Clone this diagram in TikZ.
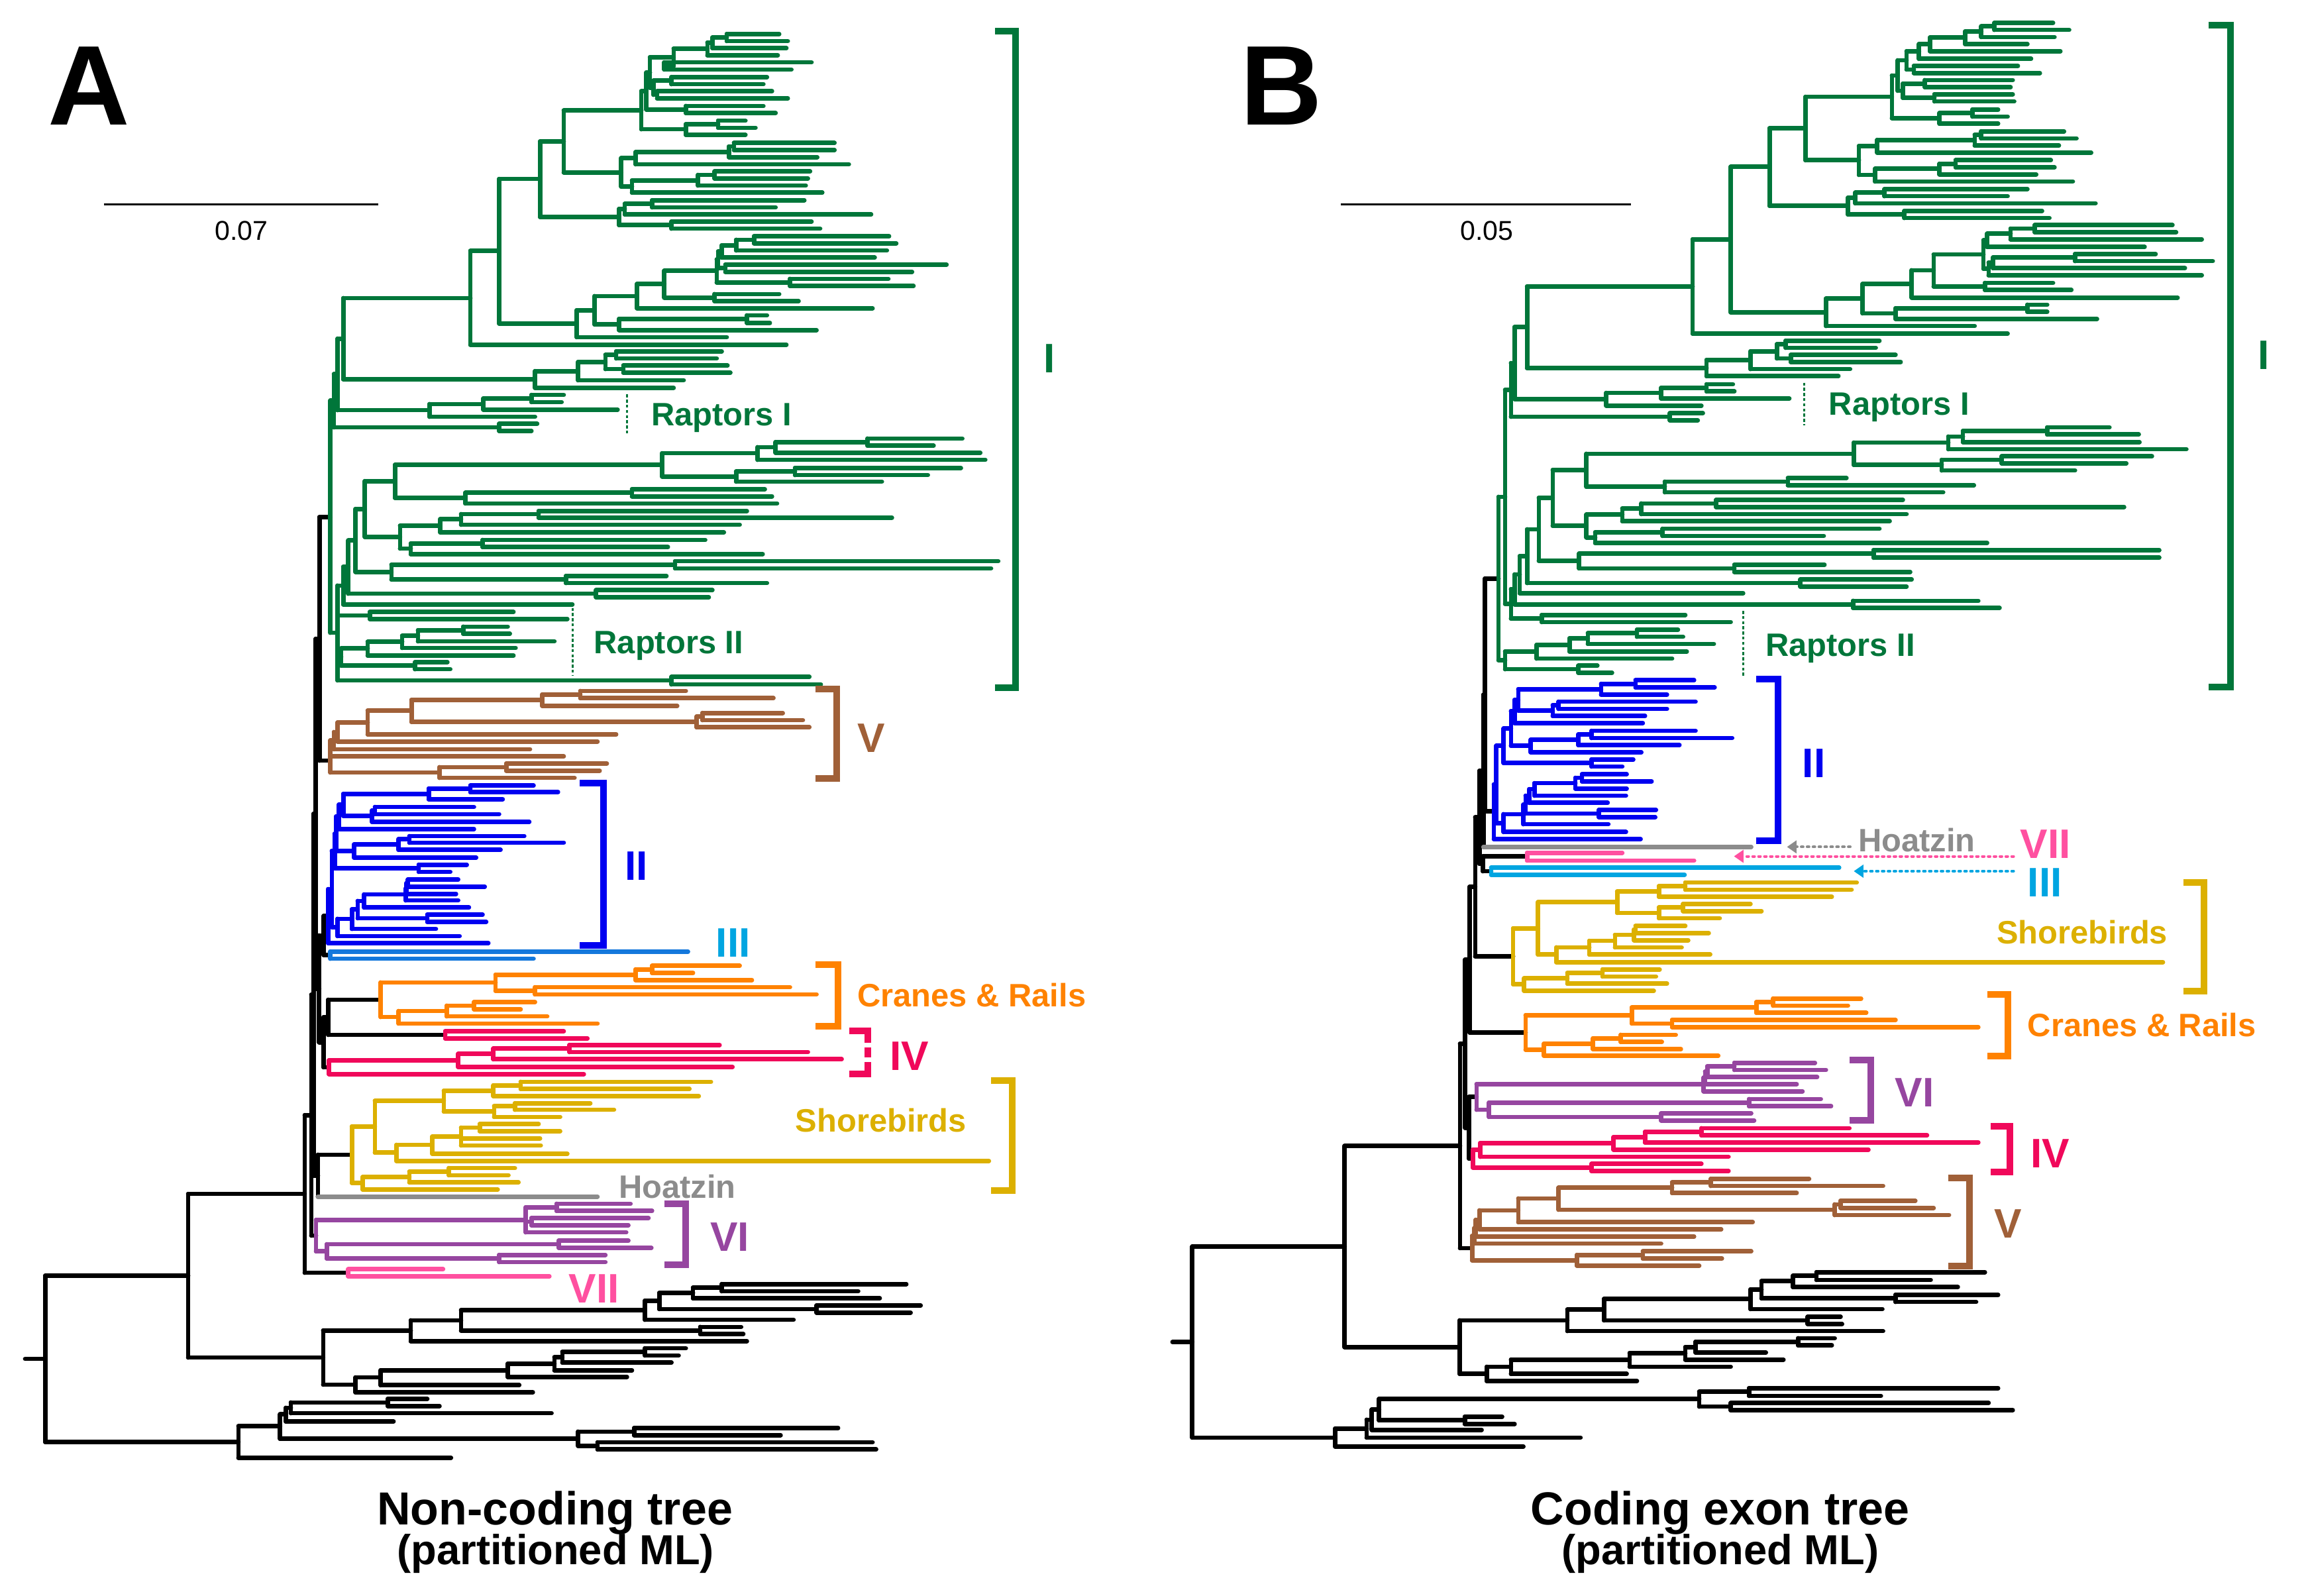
\documentclass[tikz,border=0pt]{standalone}
\usepackage{fontspec}
\setmainfont{Liberation Sans}
\usetikzlibrary{arrows.meta}
\definecolor{cI}{RGB}{0,118,58}
\definecolor{cV}{RGB}{160,96,56}
\definecolor{cII}{RGB}{0,0,240}
\definecolor{cIIIa}{RGB}{20,120,220}
\definecolor{cIII}{RGB}{0,165,225}
\definecolor{cCR}{RGB}{255,130,0}
\definecolor{cIV}{RGB}{240,8,90}
\definecolor{cSh}{RGB}{220,176,0}
\definecolor{cHo}{RGB}{140,140,140}
\definecolor{cVI}{RGB}{150,70,160}
\definecolor{cVII}{RGB}{255,80,160}
\newcommand\tnode[2]{%
  \foreach \yy/\xx [count=\ci] in {#2}{\ifnum\ci=1 \xdef\tyA{\yy}\fi\xdef\tyB{\yy}}%
  \draw (#1,\tyA) -- (#1,\tyB);%
  \draw foreach \yy/\xx in {#2}{(#1,\yy) -- (\xx,\yy)};%
}
\newcommand\LblF{\fontsize{22}{24}\selectfont\bfseries}
\newcommand\NumF{\fontsize{28}{30}\selectfont\bfseries}
\newcommand\TtlF{\fontsize{31.5}{34}\selectfont\bfseries}
\newcommand\SubF{\fontsize{28.5}{30}\selectfont\bfseries}
\newcommand\BigF{\fontsize{77}{80}\selectfont\bfseries}
\newcommand\ScF{\fontsize{18.5}{20}\selectfont}
\tikzset{
  brk/.style={line width=4.5pt,line cap=butt,line join=miter},
  rapt/.style={cI,line width=1.3pt,line cap=butt,dash pattern=on 2pt off 1.5pt},
  sbar/.style={line width=1.4pt,line cap=butt,black},
  dotarr/.style={line width=1.8pt,line cap=round,dash pattern=on 1.3pt off 2.7pt,-{Triangle[length=6.5pt,width=8.5pt]}},
  lbl/.style={inner sep=0pt,font=\LblF},
  num/.style={inner sep=0pt,font=\NumF}
}
\begin{document}
\begin{tikzpicture}[x=1pt,y=-1pt,line width=3pt,line cap=round,line join=round]
\fill[white] (0,0) rectangle (1568,1084);
\useasboundingbox (0,0) rectangle (1568,1084);

%%%%%%%%%%%%%%%%%%%%%%%%%%%% TREE A %%%%%%%%%%%%%%%%%%%%%%%%%%%%
% backbone (zoom2 coordinates)
\begin{scope}[shift={(0,450)},xscale=0.4879,yscale=0.4041,black]
\tnode{444.8}{-244.3/460,165/460}
\tnode{450.9}{426/457,492/460}
\tnode{457}{567/530,626/620}
\tnode{450.5}{596.5/457,680.5/458}
\tnode{444.4}{459/450.9,638.5/450.5}
\tnode{439.6}{-39.65/444.8,548.75/444.4}
\tnode{442.7}{827.5/490,898/442.7}
\tnode{436.6}{254.5/439.6,862.75/442.7}
\tnode{433.5}{558.6/436.6,963.5/440}
\tnode{424.3}{761/433.5,1026/485}
\tnode{262}{893.5/424.3,1168.5/450}
\tnode{63}{1031/262,1310.5/332}
\draw (35,1170.75) -- (63,1170.75);
\draw[cHo] (442.7,898) -- (832,898);
% outgroup
\tnode{1005}{1045/1262,1057/1195}
\tnode{965}{1051/1005,1069/1225}
\tnode{1137}{1081/1282,1093/1268}
\tnode{918}{1060/965,1087/1137}
\tnode{898}{1073/918,1105/1105}
\tnode{975}{1117/1032,1129/1035}
\tnode{642}{1089/898,1123/975}
\tnode{572}{1106/642,1141/1040}
\tnode{898}{1153/955,1165/945}
\tnode{783}{1159/898,1177/935}
\tnode{772}{1168/783,1190/880}
\tnode{707}{1179/772,1201/873}
\tnode{530}{1190/707,1215/723}
\tnode{495}{1202/530,1227/742}
\tnode{450}{1123/572,1214/495}
\tnode{540}{1238/595,1250/612}
\tnode{405}{1244/540,1262/768}
\tnode{398}{1253/405,1276/548}
\tnode{883}{1287/1167,1299/1087}
\tnode{832}{1311/1215,1323/1220}
\tnode{805}{1293/883,1317/832}
\tnode{390}{1264/398,1305/805}
\tnode{332}{1284/390,1337/628}
\end{scope}

% clade I (zoom1 coordinates)
\begin{scope}[xscale=0.4879,yscale=0.3444,cI]
\tnode{1012}{67/1085,81/1097}
\tnode{992}{74/1012,95/1095}
\tnode{985}{84/992,109/1083}
\tnode{925}{123/1130,137/1102}
\tnode{938}{96/985,130/925}
\tnode{935}{152/1068,166/1063}
\tnode{915}{180/1075,194/1097}
\tnode{910}{159/935,187/915}
\tnode{905}{113/938,173/910}
\tnode{955}{209/1063,223/1080}
\tnode{900}{143/905,216/955}
\tnode{1000}{238/1038,252/1052}
\tnode{955}{245/1000,266/1038}
\tnode{893}{180/900,255/955}
\tnode{1022}{282/1162,296/1162}
\tnode{1015}{289/1022,310/1138}
\tnode{885}{300/1015,324/1182}
\tnode{995}{338/1128,352/1125}
\tnode{972}{345/995,366/1122}
\tnode{880}{356/972,380/1145}
\tnode{865}{312/885,368/880}
\tnode{785}{218/893,340/865}
\tnode{908}{395/1120,409/1080}
\tnode{870}{402/908,423/1213}
\tnode{935}{437/1130,451/1142}
\tnode{862}{412/870,444/935}
\tnode{752}{279/785,428/862}
\tnode{1050}{466/1238,480/1248}
\tnode{1025}{473/1050,494/1235}
\tnode{1005}{484/1025,508/1218}
\tnode{1010}{522/1318,536/1270}
\tnode{1000}{496/1005,529/1010}
\tnode{1100}{550/1237,564/1272}
\tnode{998}{512/1000,557/1100}
\tnode{995}{580/1085,594/1112}
\tnode{925}{534/998,587/995}
\tnode{887}{560/925,608/1215}
\tnode{1040}{622/1068,637/1072}
\tnode{862}{629/1040,651/1137}
\tnode{828}{584/887,640/862}
\tnode{803}{612/828,665/1012}
\tnode{695}{353/752,638/803}
\tnode{655}{495/695,680/1095}
\tnode{858}{693/1005,707/998}
\tnode{868}{721/1013,735/1017}
\tnode{843}{700/858,728/868}
\tnode{805}{714/843,750/952}
\tnode{745}{732/805,765/938}
\tnode{478}{588/655,748/745}
\tnode{740}{779/785,793/782}
\tnode{673}{786/740,808/860}
\tnode{598}{797/673,822/745}
\tnode{470}{668/478,809/598}
\tnode{695}{836/748,850/740}
\tnode{465}{738/470,843/695}
\tnode{1208}{865/1340,879/1300}
\tnode{1080}{872/1208,893/1365}
\tnode{1055}{882/1080,907/1372}
\tnode{1107}{923/1338,937/1292}
\tnode{1025}{930/1107,950/1228}
\tnode{922}{894/1055,940/1025}
\tnode{880}{965/1065,979/1075}
\tnode{648}{972/880,993/1082}
\tnode{550}{917/922,982/648}
\tnode{750}{1008/1040,1021/1242}
\tnode{642}{1014/750,1035/1030}
\tnode{613}{1024/642,1050/1008}
\tnode{672}{1065/982,1079/930}
\tnode{572}{1072/672,1093/1062}
\tnode{557}{1037/613,1082/572}
\tnode{508}{949/550,1059/557}
\tnode{940}{1107/1390,1121/1380}
\tnode{788}{1136/928,1150/1068}
\tnode{545}{1114/940,1143/788}
\tnode{495}{1004/508,1128/545}
\tnode{830}{1164/992,1178/987}
\tnode{485}{1066/495,1171/830}
\tnode{478}{1118/485,1192/797}
\tnode{515}{1207/715,1221/790}
\tnode{645}{1236/707,1250/710}
\tnode{582}{1243/645,1265/772}
\tnode{560}{1254/582,1278/718}
\tnode{512}{1266/560,1293/715}
\tnode{578}{1306/623,1320/627}
\tnode{475}{1279/512,1313/578}
\tnode{935}{1335/1127,1350/1143}
\tnode{470}{1155/478,1214/515,1296/475,1342/935}
\tnode{460}{790/465,1248/470}
\end{scope}

% lower clades of A (zoom2 coordinates)
\begin{scope}[shift={(0,450)},xscale=0.4879,yscale=0.4041]
\begin{scope}[cV]
\tnode{808}{48/955,60/1077}
\tnode{755}{54/808,73/943}
\tnode{978}{85/1090,97/1118}
\tnode{970}{91/978,109/1127}
\tnode{573}{63/755,100/970}
\tnode{512}{81/573,121/858}
\tnode{470}{101/512,133/832}
\tnode{465}{117/470,146/738}
\tnode{705}{170/845,182/835}
\tnode{612}{176/705,194/800}
\tnode{460}{131/465,158/785,185/612}
\end{scope}
\begin{scope}[cII]
\tnode{655}{207/743,218/777}
\tnode{597}{212/655,230/700}
\tnode{522}{243/660,255/695}
\tnode{518}{249/522,268/737}
\tnode{478}{221/597,258/518}
\tnode{472}{239/478,280/660}
\tnode{570}{292/730,303/785}
\tnode{555}{297/570,315/697}
\tnode{493}{306/555,328/663}
\tnode{468}{259/472,317/493}
\tnode{583}{340/650,352/627}
\tnode{466}{288/468,346/583}
\tnode{568}{365/638,377/675}
\tnode{566}{371/568,389/635}
\tnode{565}{380/566,400/638}
\tnode{507}{390/565,412/653}
\tnode{595}{424/672,436/677}
\tnode{498}{401/507,430/595}
\tnode{490}{415/498,448/607}
\tnode{470}{431/490,460/640}
\tnode{462}{317/466,445/470}
\tnode{457}{381/462,472/680}
\end{scope}
\begin{scope}[cIIIa]
\tnode{460}{486/958,498/743}
\end{scope}
\begin{scope}[cCR]
\tnode{908}{510/1030,522/965}
\tnode{885}{516/908,534/1047}
\tnode{745}{546/1100,558/1137}
\tnode{690}{525/885,552/745}
\tnode{660}{571/745,583/725}
\tnode{622}{577/660,595/762}
\tnode{555}{586/622,607/832}
\tnode{530}{538/690,596/555}
\end{scope}
\begin{scope}[cIV]
\tnode{620}{620/785,632/818}
\tnode{793}{643/1002,655/1125}
\tnode{687}{649/793,667/1172}
\tnode{638}{658/687,680/1020}
\tnode{458}{669/638,692/813}
\end{scope}
\begin{scope}[cSh]
\tnode{725}{705/990,717/960}
\tnode{687}{711/725,729/973}
\tnode{717}{741/822,752/855}
\tnode{688}{746/717,764/780}
\tnode{618}{720/687,755/688}
\tnode{668}{776/750,788/780}
\tnode{642}{782/668,800/752,812/753}
\tnode{602}{797/642,826/790}
\tnode{552}{811/602,838/1377}
\tnode{522}{737/618,824/552}
\tnode{625}{850/717,862/708}
\tnode{570}{856/625,874/722}
\tnode{505}{865/570,886/693}
\tnode{490}{780/522,875/505}
\end{scope}
\begin{scope}[cVI]
\tnode{775}{910/878,922/908}
\tnode{740}{934/903,946/875}
\tnode{732}{916/775,940/740,958/872}
\tnode{778}{972/875,984/907}
\tnode{695}{996/843,1008/843}
\tnode{455}{978/778,1002/695}
\tnode{440}{937/732,990/455}
\end{scope}
\begin{scope}[cVII]
\tnode{485}{1020/617,1032/765}
\end{scope}
\end{scope}

% labels and brackets A
\draw[rapt] (426,268) -- (426,296);
\draw[rapt] (389,413) -- (389,459);
\node[lbl,cI,anchor=base west] (rapAI) at (441,289) {Raptors I};
\node[lbl,cI,anchor=base west] (rapAII) at (402,444) {Raptors II};
\draw[brk,cI] (676,21) -- (690,21) -- (690,467) -- (676,467);
\node[num,cI,anchor=base] (cladeAI) at (713,253) {I};
\draw[brk,cV] (554,468.2) -- (568.4,468.2) -- (568.4,528.8) -- (554,528.8);
\node[num,cV,anchor=base west] (cladeAV) at (581,511) {V};
\draw[brk,cII] (394,532) -- (409.8,532) -- (409.8,642) -- (394,642);
\node[num,cII,anchor=base west] (cladeAII) at (423,598) {II};
\node[num,cIII,anchor=base west] (cladeAIII) at (485,650) {III};
\draw[brk,cCR] (553.8,655.3) -- (569.4,655.3) -- (569.4,697.3) -- (553.8,697.3);
\node[lbl,cCR,anchor=base west] (crA) at (581,684) {Cranes \& Rails};
\draw[brk,cIV] (577,700.5) -- (589.4,700.5) -- (589.4,708.5);
\draw[brk,cIV] (589.4,711.5) -- (589.4,718.5);
\draw[brk,cIV] (589.4,721.5) -- (589.4,729.6) -- (577,729.6);
\node[num,cIV,anchor=base west] (cladeAIV) at (603,727) {IV};
\draw[brk,cSh] (673.3,734) -- (687.8,734) -- (687.8,808.8) -- (673.3,808.8);
\node[lbl,cSh,anchor=base west] (shA) at (539,769) {Shorebirds};
\node[lbl,cHo,anchor=base west] (hoA) at (419,814) {Hoatzin};
\draw[brk,cVI] (451.3,817.7) -- (465.8,817.7) -- (465.8,859) -- (451.3,859);
\node[num,cVI,anchor=base west] (cladeAVI) at (481,850) {VI};
\node[num,cVII,anchor=base west] (cladeAVII) at (385,885) {VII};

\node[inner sep=0pt,anchor=base west,font=\BigF] (letA) at (31,85) {A};
\draw[sbar] (70.7,138.8) -- (257,138.8);
\node[inner sep=0pt,font=\ScF] (scA) at (164,157) {0.07};
\node[inner sep=0pt,anchor=base,font=\TtlF] (ttlA) at (377,1036) {Non-coding tree};
\node[inner sep=0pt,anchor=base,font=\SubF] (subA) at (377.5,1063) {(partitioned ML)};

%%%%%%%%%%%%%%%%%%%%%%%%%%%% TREE B %%%%%%%%%%%%%%%%%%%%%%%%%%%%
\begin{scope}[shift={(787.6,450)},xscale=0.4977,yscale=0.4041,black]
\tnode{444.6}{-141/463,250/456.7}
\tnode{442.4}{54.5/444.6,310/442.4}
\tnode{441.6}{326/502,351/453}
\tnode{437}{182.25/442.4,338.5/441.6}
\tnode{431.2}{260.4/437,494/483}
\tnode{423.6}{377.2/431.2,622/500}
\tnode{422.7}{730.5/433,834/428}
\tnode{417.5}{499.6/423.6,782.25/422.7}
\tnode{410.5}{641/417.5,984.5/427}
\tnode{253}{812.75/410.5,1151/410}
\tnode{45}{981.9/253,1303/240}
\draw (18,1142.5) -- (45,1142.5);
\draw[cHo] (442.4,310) -- (808,310);
\tnode{897}{1025/1127,1038/1053}
\tnode{865}{1031/897,1050/1090}
\tnode{1005}{1063/1145,1075/1115}
\tnode{822}{1040/865,1069/1005}
\tnode{807}{1054/822,1087/987}
\tnode{885}{1100/930,1112/932}
\tnode{607}{1070/807,1106/885}
\tnode{557}{1088/607,1124/988}
\tnode{872}{1136/922,1148/918}
\tnode{732}{1142/872,1160/828}
\tnode{718}{1151/732,1172/852}
\tnode{642}{1161/718,1184/780}
\tnode{480}{1172/642,1196/638}
\tnode{447}{1184/480,1208/652}
\tnode{410}{1106/557,1196/447}
\tnode{805}{1220/1145,1233/985}
\tnode{780}{1245/1132,1257/1165}
\tnode{737}{1226/805,1251/780}
\tnode{417}{1268/468,1280/485}
\tnode{300}{1238/737,1274/417}
\tnode{290}{1256/300,1290/440}
\tnode{283}{1273/290,1303/575}
\tnode{240}{1288/283,1318/497}
\end{scope}

% clade I B (zoom3 coordinates)
\begin{scope}[shift={(787.6,0)},xscale=0.4977,yscale=0.3444,cI]
\tnode{1140}{45/1220,59/1242}
\tnode{1122}{52/1140,73/1222}
\tnode{1100}{62/1122,87/1185}
\tnode{1052}{74/1100,101/1230}
\tnode{1037}{87/1052,116/1190}
\tnode{1030}{130/1172,144/1202}
\tnode{1020}{101/1037,137/1030}
\tnode{1045}{158/1165,172/1162}
\tnode{1058}{186/1165,200/1167}
\tnode{1015}{165/1045,193/1058}
\tnode{1008}{119/1020,179/1015}
\tnode{1110}{216/1145,230/1158}
\tnode{1065}{223/1110,244/1145}
\tnode{1000}{149/1008,233/1065}
\tnode{1122}{259/1235,273/1252}
\tnode{1113}{266/1122,287/1228}
\tnode{980}{276/1113,301/1272}
\tnode{1087}{316/1217,330/1222}
\tnode{1065}{323/1087,344/1197}
\tnode{977}{333/1065,358/1247}
\tnode{955}{288/980,345/977}
\tnode{882}{191/1000,316/955}
\tnode{990}{373/1185,387/1158}
\tnode{950}{380/990,401/1278}
\tnode{1017}{416/1205,430/1215}
\tnode{940}{390/950,423/1017}
\tnode{833}{253/882,406/940}
\tnode{1195}{444/1383,458/1388}
\tnode{1162}{451/1195,472/1423}
\tnode{1130}{461/1162,487/1345}
\tnode{1250}{501/1360,515/1438}
\tnode{1138}{508/1250,529/1400}
\tnode{1132}{518/1138,543/1423}
\tnode{1125}{474/1130,530/1132}
\tnode{1127}{558/1220,572/1245}
\tnode{1057}{502/1125,565/1127}
\tnode{1027}{533/1057,587/1390}
\tnode{1185}{601/1212,615/1212}
\tnode{1005}{608/1185,629/1280}
\tnode{960}{560/1027,618/1005}
\tnode{910}{589/960,643/1113}
\tnode{780}{329/833,616/910}
\tnode{728}{472/780,658/1158}
\tnode{855}{672/983,686/978}
\tnode{862}{700/1005,714/1012}
\tnode{843}{679/855,707/862}
\tnode{807}{693/843,728/943}
\tnode{747}{710/807,742/927}
\tnode{502}{565/728,726/747}
\tnode{747}{758/783,772/785}
\tnode{685}{765/747,786/860}
\tnode{610}{775/685,800/740}
\tnode{485}{645/502,787/610}
\tnode{697}{815/742,829/735}
\tnode{480}{716/485,822/697}
\tnode{1212}{843/1297,857/1337}
\tnode{1097}{850/1212,872/1338}
\tnode{1077}{861/1097,886/1402}
\tnode{1150}{900/1355,914/1320}
\tnode{1068}{907/1150,928/1250}
\tnode{948}{873/1077,917/1068}
\tnode{858}{943/938,957/1112}
\tnode{690}{950/858,971/1070}
\tnode{583}{895/948,960/690}
\tnode{760}{986/1015,1000/1317}
\tnode{658}{993/760,1014/1020}
\tnode{632}{1003/658,1028/997}
\tnode{687}{1043/983,1057/907}
\tnode{595}{1050/687,1071/1130}
\tnode{583}{1015/632,1060/595}
\tnode{537}{927/583,1037/583}
\tnode{975}{1085/1365,1100/1365}
\tnode{785}{1114/908,1128/1025}
\tnode{573}{1092/975,1121/785}
\tnode{518}{982/537,1106/573}
\tnode{875}{1143/1027,1157/1020}
\tnode{502}{1044/518,1150/875}
\tnode{492}{1097/502,1170/797}
\tnode{947}{1185/1118,1199/1147}
\tnode{485}{1133/492,1192/947}
\tnode{522}{1213/718,1227/780}
\tnode{480}{1162/485,1220/522}
\tnode{472}{769/480,1191/480}
\tnode{652}{1242/708,1256/715}
\tnode{585}{1249/652,1270/757}
\tnode{560}{1259/585,1285/720}
\tnode{515}{1272/560,1299/700}
\tnode{572}{1313/598,1327/618}
\tnode{472}{1285/515,1320/572}
\tnode{463}{980/472,1302/472}
\end{scope}

% lower clades B (zoom4 coordinates)
\begin{scope}[shift={(787.6,450)},xscale=0.4977,yscale=0.4041]
\begin{scope}[cII]
\tnode{650}{30/730,42/758}
\tnode{603}{36/650,54/693}
\tnode{545}{66/732,78/693}
\tnode{537}{72/545,90/663}
\tnode{490}{45/603,81/537}
\tnode{485}{63/490,102/660}
\tnode{590}{115/732,127/782}
\tnode{572}{121/590,139/710}
\tnode{507}{130/572,151/658}
\tnode{480}{82/485,140/507}
\tnode{590}{163/647,175/632}
\tnode{470}{111/480,169/590}
\tnode{577}{188/638,200/672}
\tnode{568}{194/577,212/638}
\tnode{512}{203/568,224/637}
\tnode{505}{213/512,236/612}
\tnode{600}{248/678,260/677}
\tnode{500}{224/505,254/600}
\tnode{497}{239/500,272/613}
\tnode{470}{255/497,285/637}
\tnode{460}{140/470,270/470}
\tnode{456.7}{205/460,297/657}
\end{scope}
\begin{scope}[cVII]
\tnode{502}{320/632,333/730}
\end{scope}
\begin{scope}[cIII]
\tnode{453}{345/928,357/717}
\end{scope}
\begin{scope}[cSh]
\tnode{718}{370/952,382/945}
\tnode{682}{376/718,394/918}
\tnode{715}{406/807,418/822}
\tnode{682}{412/715,430/765}
\tnode{625}{385/682,421/682}
\tnode{650}{443/718,455/750}
\tnode{648}{449/650,467/722}
\tnode{622}{458/648,479/713}
\tnode{587}{468/622,491/752}
\tnode{542}{479/587,504/1370}
\tnode{517}{403/625,491/542}
\tnode{605}{516/683,528/678}
\tnode{557}{522/605,540/693}
\tnode{498}{531/557,552/675}
\tnode{483}{447/517,541/498}
\end{scope}
\begin{scope}[cCR]
\tnode{838}{565/958,577/940}
\tnode{815}{571/838,589/965}
\tnode{700}{601/1005,613/1118}
\tnode{645}{580/815,607/700}
\tnode{630}{626/705,638/686}
\tnode{592}{632/630,650/712}
\tnode{525}{641/592,661/763}
\tnode{500}{593/645,651/525}
\end{scope}
\begin{scope}[cVI]
\tnode{785}{673/895,685/910}
\tnode{748}{679/785,697/898}
\tnode{745}{688/748,709/870}
\tnode{743}{698/745,721/878}
\tnode{805}{734/903,746/917}
\tnode{685}{758/808,770/812}
\tnode{450}{740/805,764/685}
\tnode{433}{709/743,752/450}
\end{scope}
\begin{scope}[cIV]
\tnode{740}{783/942,795/1048}
\tnode{663}{789/740,807/1118}
\tnode{620}{798/663,819/968}
\tnode{438}{808/620,831/777}
\tnode{590}{843/740,855/777}
\tnode{428}{819/438,849/590}
\end{scope}
\begin{scope}[cV]
\tnode{753}{868/887,880/988}
\tnode{700}{874/753,892/870}
\tnode{930}{905/1032,917/1057}
\tnode{922}{911/930,929/1078}
\tnode{545}{883/700,920/922}
\tnode{490}{901/545,941/810}
\tnode{437}{921/490,953/767}
\tnode{432}{937/437,965/730}
\tnode{660}{990/808,1002/768}
\tnode{570}{996/660,1014/737}
\tnode{430}{951/432,977/685}
\tnode{427}{964/430,1005/570}
\end{scope}
\end{scope}

% labels and brackets B
\draw[rapt] (1225.6,260) -- (1225.6,289);
\draw[rapt] (1184.3,415) -- (1184.3,460);
\node[lbl,cI,anchor=base west] (rapBI) at (1241,282) {Raptors I};
\node[lbl,cI,anchor=base west] (rapBII) at (1198,446) {Raptors II};
\draw[brk,cI] (1500.3,17.2) -- (1515.5,17.2) -- (1515.5,466.7) -- (1500.3,466.7);
\node[num,cI,anchor=base] (cladeBI) at (1538,251) {I};
\draw[brk,cII] (1193.2,461.3) -- (1208,461.3) -- (1208,571.2) -- (1193.2,571.2);
\node[num,cII,anchor=base west] (cladeBII) at (1223,528) {II};
\node[lbl,cHo,anchor=base west] (hoB) at (1261,578.5) {Hoatzin};
\node[num,cVII,anchor=base west] (cladeBVII) at (1371,583) {VII};
\node[num,cIII,anchor=base west] (cladeBIII) at (1376,609) {III};
\coordinate (hoTip) at (1214,575.3);
\coordinate (viiTip) at (1178,581.7);
\coordinate (iiiTip) at (1259.4,591.8);
\coordinate (hoSt) at (1257,575.3);
\coordinate (viiSt) at (1368,581.7);
\coordinate (iiiSt) at (1368,591.8);
\draw[dotarr,cHo] (hoSt) -- (hoTip);
\draw[dotarr,cVII] (viiSt) -- (viiTip);
\draw[dotarr,cIII] (iiiSt) -- (iiiTip);
\draw[brk,cSh] (1483.4,599.5) -- (1497.5,599.5) -- (1497.5,673.5) -- (1483.4,673.5);
\node[lbl,cSh,anchor=base west] (shB) at (1355,641) {Shorebirds};
\draw[brk,cCR] (1350,675.5) -- (1364.3,675.5) -- (1364.3,717.5) -- (1350,717.5);
\node[lbl,cCR,anchor=base west] (crB) at (1376,704) {Cranes \& Rails};
\draw[brk,cVI] (1256.4,720) -- (1270.8,720) -- (1270.8,761.2) -- (1256.4,761.2);
\node[num,cVI,anchor=base west] (cladeBVI) at (1286,752) {VI};
\draw[brk,cIV] (1352.5,765.2) -- (1365.3,765.2) -- (1365.3,796.3) -- (1352.5,796.3);
\node[num,cIV,anchor=base west] (cladeBIV) at (1378,793) {IV};
\draw[brk,cV] (1323.6,800) -- (1337.8,800) -- (1337.8,860.2) -- (1323.6,860.2);
\node[num,cV,anchor=base west] (cladeBV) at (1353.5,841) {V};

\node[inner sep=0pt,anchor=base west,font=\BigF] (letB) at (841,85) {B};
\draw[sbar] (911,138.8) -- (1108,138.8);
\node[inner sep=0pt,font=\ScF] (scB) at (1010,157) {0.05};
\node[inner sep=0pt,anchor=base,font=\TtlF] (ttlB) at (1168.6,1036) {Coding exon tree};
\node[inner sep=0pt,anchor=base,font=\SubF] (subB) at (1168.8,1063) {(partitioned ML)};
\end{tikzpicture}
\end{document}
